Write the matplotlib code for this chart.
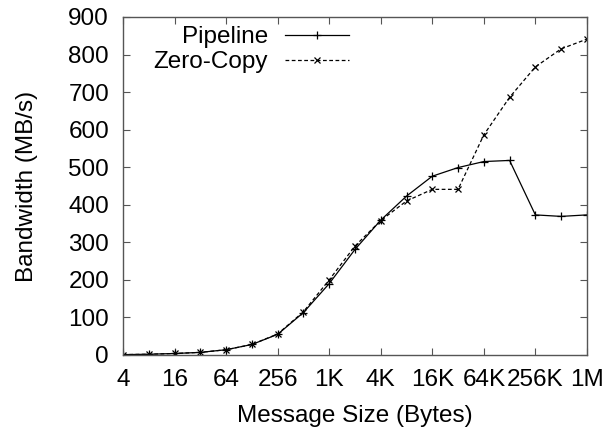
import matplotlib
matplotlib.use("Agg")
import matplotlib.pyplot as plt

plt.rcParams['font.family'] = ['Liberation Sans', 'DejaVu Sans']

# message sizes in bytes (powers of two, 4 .. 1M)
sizes = [4, 8, 16, 32, 64, 128, 256, 512, 1024, 2048, 4096, 8192, 16384,
         32768, 65536, 131072, 262144, 524288, 1048576]

pipeline = [1, 2, 4, 7, 14, 28, 55, 113, 190, 281, 359, 423, 476,
            499, 515, 518, 373, 369, 373]
zero_copy = [1, 2, 4, 7, 14, 28, 56, 115, 200, 290, 358, 410, 441,
             441, 586, 686, 767, 815, 841]

tick_vals = [4, 16, 64, 256, 1024, 4096, 16384, 65536, 262144, 1048576]
tick_labels = ['4', '16', '64', '256', '1K', '4K', '16K', '64K', '256K', '1M']

FS = 17.5


def main():
    fig = plt.figure(figsize=(6.12, 4.29), dpi=100)
    ax = fig.add_axes([0.201, 0.1725, 0.758, 0.788])

    ax.plot(sizes, pipeline, color='black', linestyle='-', linewidth=0.9,
            marker='+', markersize=6, markeredgewidth=0.9, label='Pipeline')
    ax.plot(sizes, zero_copy, color='black', linestyle=(0, (3, 2)), linewidth=0.9,
            marker='x', markersize=5, markeredgewidth=0.9, label='Zero-Copy')

    ax.set_xscale('log', base=2)
    ax.set_xlim(4, 1048576)
    ax.set_ylim(0, 900)
    ax.set_xticks(tick_vals)
    ax.set_xticklabels(tick_labels)
    ax.minorticks_off()
    ax.set_yticks(range(0, 901, 100))

    ax.tick_params(direction='in', length=5, width=0.8, top=True, right=True,
                   labelsize=FS, color='#555555')
    ax.tick_params(axis='x', pad=10)
    ax.tick_params(axis='y', pad=10)
    for s in ax.spines.values():
        s.set_color('#555555')
        s.set_linewidth(1.0)

    ax.set_xlabel('Message Size (Bytes)', fontsize=FS, labelpad=10)
    ax.set_ylabel('Bandwidth (MB/s)', fontsize=FS, labelpad=22)

    ax.legend(loc='upper right', frameon=False, markerfirst=False, fontsize=FS,
              handlelength=2.63, handletextpad=0.7, labelspacing=0.12,
              borderpad=0, borderaxespad=0, bbox_to_anchor=(0.487, 0.972))

    fig.savefig('out.png', dpi=100)


if __name__ == "__main__":
    main()
